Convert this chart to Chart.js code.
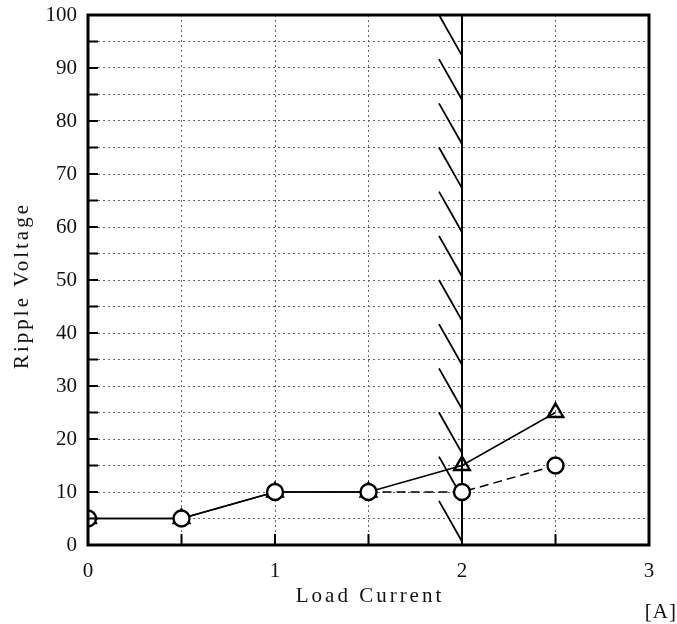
<!DOCTYPE html>
<html><head><meta charset="utf-8">
<script src="https://cdn.jsdelivr.net/npm/chart.js@4"></script>
<style>html,body{margin:0;padding:0;background:#fff}</style>
</head><body>
<div style="width:677px;height:624px"><canvas id="c" width="677" height="624"></canvas></div>
<script>
const loadCurrent = [0, 0.5, 1, 1.5, 2, 2.5];
const rippleTriangle = [5, 5, 10, 10, 15, 25];
const rippleCircle = [5, 5, 10, 10, 10, 15];
const xTickLabels = [0, 1, 2, 3];
const yTickLabels = [0, 10, 20, 30, 40, 50, 60, 70, 80, 90, 100];
const limitCurrent = 2;
const xTitle = 'Load Current';
const yTitle = 'Ripple Voltage';
const unitLabel = '[A]';

const toPts = (ys) => loadCurrent.map((x, i) => ({x, y: ys[i]}));

const decorPlugin = {
  id: 'decor',
  beforeDatasetsDraw(chart) {
    const {ctx, chartArea: a, scales: {x, y}} = chart;
    ctx.save();
    const xs = x.getPixelForValue(limitCurrent);
    ctx.strokeStyle = '#000';
    ctx.lineWidth = 2;
    ctx.beginPath();
    ctx.moveTo(xs, a.top); ctx.lineTo(xs, a.bottom); ctx.stroke();
    const n = 12, sp = (a.bottom - a.top) / n;
    ctx.lineWidth = 1.8;
    for (let k = 0; k < n; k++) {
      const t = a.top + k * sp;
      ctx.beginPath();
      ctx.moveTo(xs - 23, t);
      ctx.lineTo(xs, t + sp * 0.92);
      ctx.stroke();
    }
    ctx.restore();
  },
  afterDraw(chart) {
    const {ctx, chartArea: a, scales: {x, y}} = chart;
    ctx.save();
    ctx.strokeStyle = '#000';
    ctx.lineWidth = 2;
    ctx.beginPath();
    y.ticks.forEach(t => {
      const py = y.getPixelForValue(t.value);
      ctx.moveTo(a.left, py); ctx.lineTo(a.left + 10, py);
    });
    x.ticks.forEach(t => {
      const px = x.getPixelForValue(t.value);
      ctx.moveTo(px, a.bottom); ctx.lineTo(px, a.bottom - 11);
    });
    ctx.stroke();
    ctx.lineWidth = 3;
    ctx.strokeRect(a.left, a.top, a.right - a.left, a.bottom - a.top);
    ctx.fillStyle = '#111';
    ctx.font = '21px "Liberation Serif"';
    ctx.letterSpacing = '3px';
    ctx.textAlign = 'center';
    ctx.textBaseline = 'middle';
    ctx.fillText(xTitle, (a.left + a.right) / 2 + 1.5, 596);
    ctx.save();
    ctx.translate(22, (a.top + a.bottom) / 2 + 7);
    ctx.rotate(-Math.PI / 2);
    ctx.fillText(yTitle, 1.5, 0);
    ctx.restore();
    ctx.letterSpacing = '1px';
    ctx.textAlign = 'right';
    ctx.fillText(unitLabel, 677, 612);
    ctx.restore();
  }
};

new Chart(document.getElementById('c'), {
  type: 'scatter',
  data: {
    datasets: [
      {
        label: 'circle',
        data: toPts(rippleCircle),
        showLine: true,
        borderColor: '#000',
        borderWidth: 1.5,
        pointStyle: 'circle',
        pointRadius: 8,
        pointBorderWidth: 2.4,
        pointBackgroundColor: '#fff',
        pointBorderColor: '#000',
        segment: { borderDash: ctx => ctx.p0DataIndex >= 3 ? [9, 5] : undefined }
      },
      {
        label: 'triangle',
        data: toPts(rippleTriangle),
        showLine: true,
        borderColor: '#000',
        borderWidth: 1.5,
        pointStyle: 'triangle',
        pointRadius: 9,
        pointBorderWidth: 2.4,
        pointBackgroundColor: 'rgba(255,255,255,0)',
        pointBorderColor: '#000'
      }
    ]
  },
  options: {
    responsive: false,
    animation: false,
    devicePixelRatio: 1,
    layout: { padding: { left: 0, right: 28, top: 15, bottom: 0 } },
    plugins: { legend: { display: false }, tooltip: { enabled: false } },
    scales: {
      x: {
        type: 'linear', min: 0, max: 3,
        afterFit: s => { s.height = 79; s.paddingLeft = 0; s.paddingRight = 0; },
        ticks: {
          stepSize: 0.5, padding: 14, color: '#111',
          font: { family: '"Liberation Serif"', size: 21 },
          maxRotation: 0, autoSkip: false,
          callback: v => xTickLabels.includes(v) ? String(v) : ''
        },
        grid: { color: '#666', lineWidth: 1, drawTicks: false },
        border: { display: false, dash: [2, 3] }
      },
      y: {
        type: 'linear', min: 0, max: 100,
        afterFit: s => { s.width = 88; s.paddingTop = 0; s.paddingBottom = 0; },
        ticks: {
          stepSize: 5, padding: 11, color: '#111',
          font: { family: '"Liberation Serif"', size: 21 },
          autoSkip: false,
          callback: v => yTickLabels.includes(v) ? String(v) : ''
        },
        grid: { color: '#666', lineWidth: 1, drawTicks: false },
        border: { display: false, dash: [2, 3] }
      }
    }
  },
  plugins: [decorPlugin]
});
</script>
</body></html>
